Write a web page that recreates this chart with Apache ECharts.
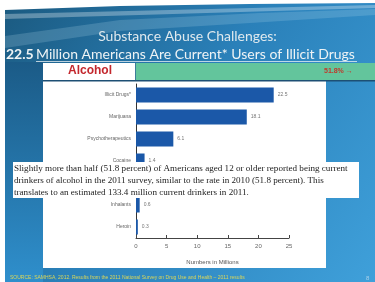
<!DOCTYPE html>
<html>
<head>
<meta charset="utf-8">
<script src="https://cdn.jsdelivr.net/npm/echarts@6/dist/echarts.min.js"></script>
<style>
html, body { margin: 0; padding: 0; }
#main { width: 375px; height: 282px; }
</style>
</head>
<body>
<div id="main"></div>
<script>
// data (NSDUH 2011, past-month users, millions)
var categories = ['Illicit Drugs*', 'Marijuana', 'Psychotherapeutics', 'Cocaine', 'Hallucinogens', 'Inhalants', 'Heroin'];
var values = [22.5, 18.1, 6.1, 1.4, 1.0, 0.6, 0.3];
var xTicks = [0, 5, 10, 15, 20, 25];
var alcoholRate = '51.8%';
var noteLines = [
    'Slightly more than half (51.8 percent) of Americans aged 12 or older reported being current',
    'drinkers of alcohol in the 2011 survey, similar to the rate in 2010 (51.8 percent). This',
    'translates to an estimated 133.4 million current drinkers in 2011.'
];

var myChart = echarts.init(document.getElementById('main'));

var option = {
    backgroundColor: '#ffffff',
    animation: false,
    grid: {
        left: 136,
        right: 375 - 289,
        top: 84,
        bottom: 282 - 238
    },
    xAxis: {
        type: 'value',
        min: xTicks[0],
        max: xTicks[xTicks.length - 1],
        interval: 5,
        name: 'Numbers in Millions',
        nameLocation: 'middle',
        nameGap: 21,
        nameTextStyle: {color: '#555', fontSize: 6, fontFamily: 'Liberation Sans'},
        axisLine: {show: true, lineStyle: {color: '#444', width: 1}},
        axisTick: {show: true, inside: true, length: 3, lineStyle: {color: '#444'}},
        axisLabel: {color: '#666', fontSize: 6, margin: 5, fontFamily: 'Liberation Sans'},
        splitLine: {show: false}
    },
    yAxis: {
        type: 'category',
        inverse: true,
        data: categories,
        axisLine: {show: true, lineStyle: {color: '#333', width: 1}},
        axisTick: {show: false},
        axisLabel: {color: '#666', fontSize: 5, margin: 5, fontFamily: 'Liberation Sans'}
    },
    series: [{
        type: 'bar',
        data: values,
        barWidth: 15,
        itemStyle: {color: '#1b58a8'},
        label: {
            show: true,
            position: 'right',
            distance: 4,
            color: '#777',
            fontSize: 5,
            fontFamily: 'Liberation Sans',
            formatter: function (p) { return p.value.toFixed(1); }
        }
    }],
    graphic: [
        // slide background with white margin at top/left
        {type: 'polygon', z: -6, shape: {points: [[5, 10], [120, 6], [250, 4], [375, 3], [375, 282], [5, 282]]},
            style: {fill: new echarts.graphic.LinearGradient(0, 0, 1, 1, [
                {offset: 0, color: '#1b5a80'},
                {offset: 0.45, color: '#2a80b9'},
                {offset: 1, color: '#3fa0da'}])}},
        // light swoosh at top
        {type: 'polygon', z: -5, shape: {points: [[5, 36], [120, 20], [260, 13], [375, 9], [375, 15], [250, 23], [120, 31], [5, 48]]},
            style: {fill: 'rgba(190,225,240,0.2)'}},
        {type: 'polygon', z: -5, shape: {points: [[5, 14], [375, 5], [375, 8], [5, 19]]},
            style: {fill: 'rgba(255,255,255,0.3)'}},
        // darker left strip
        {type: 'rect', z: -4, shape: {x: 5, y: 62, width: 38, height: 220},
            style: {fill: new echarts.graphic.LinearGradient(0, 0, 0, 1, [
                {offset: 0, color: '#1b5b87'}, {offset: 1, color: '#2f8fcc'}])}},
        // white chart panel
        {type: 'rect', z: -3, shape: {x: 43, y: 63, width: 283, height: 205}, style: {fill: '#ffffff'}},
        // alcohol row
        {type: 'rect', z: 5, shape: {x: 135, y: 63, width: 240, height: 17}, style: {fill: '#63c59c'}},
        {type: 'rect', z: 5, shape: {x: 43, y: 80, width: 332, height: 1.5}, style: {fill: '#1d4f74'}},
        {type: 'rect', z: 5, shape: {x: 135, y: 63, width: 1, height: 17}, style: {fill: '#3d7d9a'}},
        {type: 'text', z: 6, left: 68, top: 65, style: {text: 'Alcohol', fill: '#c3272d',
            font: 'bold 12px "Liberation Sans", Arial'}},
        {type: 'text', z: 6, left: 324, top: 68, style: {text: alcoholRate + ' \u2192', fill: '#c0392b',
            font: 'bold 7px "Liberation Sans", Arial'}},
        // titles
        {type: 'text', z: 6, left: 'center', top: 29, style: {text: 'Substance Abuse Challenges:', fill: '#dfe9ee',
            font: '14px Lato'}},
        {type: 'text', z: 6, left: 6, top: 47, style: {text: '22.5', fill: '#eef3f5', font: 'bold 14px Lato'}},
        {type: 'text', z: 6, left: 36, top: 47, style: {text: 'Million Americans Are Current* Users of Illicit Drugs',
            fill: '#eef3f5', font: '14px Lato'}},
        {type: 'rect', z: 6, shape: {x: 36, y: 61, width: 321, height: 0.8}, style: {fill: '#eef3f5'}},
        // note box
        {type: 'rect', z: 100, shape: {x: 13, y: 162, width: 346, height: 36}, style: {fill: '#ffffff'}},
        {type: 'text', z: 101, left: 14, top: 163, style: {text: noteLines.join('\n'), fill: '#222',
            font: '9.1px "Liberation Serif"', lineHeight: 12}},
        // footer
        {type: 'text', z: 6, left: 10, top: 275, style: {text: 'SOURCE: SAMHSA, 2012. Results from the 2011 National Survey on Drug Use and Health \u2013 2011 results',
            fill: '#d9d65a', font: '5px "Liberation Sans"'}},
        {type: 'text', z: 6, left: 366, top: 275, style: {text: '8', fill: '#a8d0ea', font: '6px "Liberation Sans"'}}
    ]
};

myChart.setOption(option);
</script>
</body>
</html>
